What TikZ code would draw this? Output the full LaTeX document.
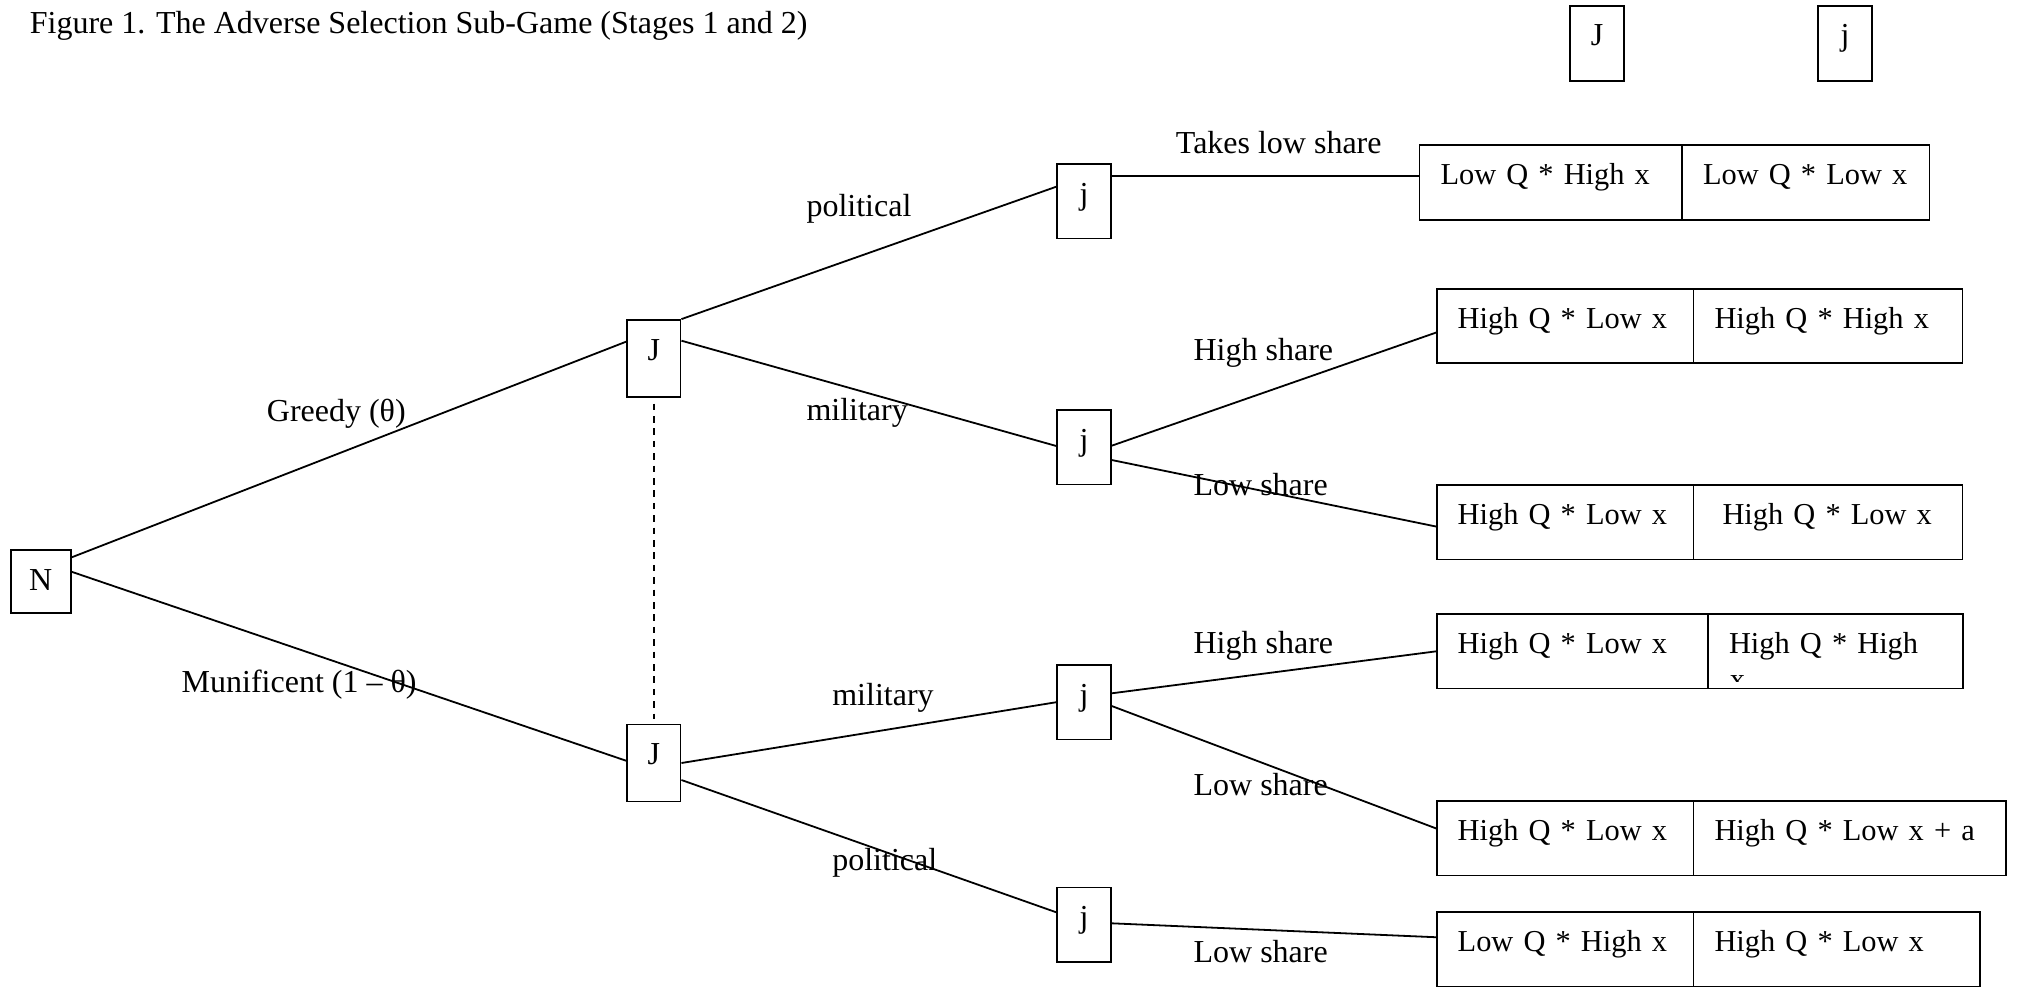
\documentclass[tikz,border=0pt]{standalone}
\usepackage{fontspec}
\setmainfont{Liberation Serif}
\begin{document}
\begin{tikzpicture}[x=0.5pt, y=-0.5pt, line width=0.9pt,
    font=\fontsize{16}{19}\selectfont,
    player/.style ={draw, inner sep=0pt, minimum width=26.8pt, text height=20pt, text depth=17.2pt},
    payoff/.style ={draw, anchor=north west, outer sep=0pt, inner xsep=10.5pt, inner ysep=0pt,
                    text height=19.75pt, text depth=17.5pt, align=left, font=\fontsize{15.2}{19}\selectfont},
    branch/.style ={anchor=base west, inner sep=0pt}]
   \useasboundingbox (0,0) rectangle (2017,986);
   \node[branch] (title) at (29,33) {Figure 1. The Adverse Selection Sub-Game (Stages 1 and 2)};
   % legend
   \node[player, text depth=17.5pt] (legJ) at (1597,43.2) {J};
   \node[player, text depth=17.5pt] (legj) at (1845,43.2) {j};
   % players
   \node[player, minimum width=30pt, text depth=11.35pt] (N) at (40.7,581.35) {N};
   \node[player, text depth=18.5pt] (Ja) at (653.75,358.5) {J};
   \node[player, text depth=18.5pt] (Jb) at (653.75,763) {J};
   \node[player] (ja) at (1084,201.2) {j};
   \node[player] (jb) at (1084,447.2) {j};
   \node[player] (jc) at (1084,702.2) {j};
   \node[player] (jd) at (1084,924.7) {j};
   % payoffs
   \node[payoff, text width=110.25pt] (p1a) at (1419.5,145.3) {\mbox{Low Q * High x}};
   \node[payoff, text width=102.75pt] (p1b) at (p1a.north east) {\mbox{Low Q * Low x}};
   \node[payoff, text width=107.4pt] (p2a) at (1436.7,288.7) {\mbox{High Q * Low x}};
   \node[payoff, text width=113.5pt] (p2b) at (p2a.north east) {\mbox{High Q * High x}};
   \node[payoff, text width=107.4pt] (p3a) at (1436.7,485) {\mbox{High Q * Low x}};
   \node[payoff, text width=105.5pt, inner xsep=14.5pt] (p3b) at (p3a.north east) {\mbox{High Q * Low x}};
   \node[payoff, text width=114.65pt] (p4a) at (1436.7,614) {\mbox{High Q * Low x}};
   \node[payoff, text width=106.5pt] (p4b) at (p4a.north east) {\mbox{High Q * High}};
   \node[payoff, text width=107.4pt] (p5a) at (1436.7,801) {\mbox{High Q * Low x}};
   \node[payoff, text width=135.25pt] (p5b) at (p5a.north east) {\mbox{High Q * Low x + a}};
   \node[payoff, text width=107.4pt] (p6a) at (1436.7,912) {\mbox{Low Q * High x}};
   \node[payoff, text width=122.25pt] (p6b) at (p6a.north east) {\mbox{High Q * Low x}};
   \begin{scope}
     \clip (p4b.north west) rectangle (1963,681);
     \node[branch, font=\fontsize{15.2}{19}\selectfont] (p4x) at (1729,689.6) {x};
   \end{scope}
   % branches
   \draw ([yshift=12pt]N.east) -- ([yshift=8.4pt]Ja.west);
   \draw ([yshift=4.8pt]N.east) -- ([yshift=1.15pt]Jb.west);
   \draw (Ja.north east) -- ([yshift=7.25pt]ja.west);
   \draw ([yshift=8.9pt]Ja.east) -- ([yshift=0.6pt]jb.west);
   \draw (Jb.east) -- (jc.west);
   \draw ([yshift=-8.5pt]Jb.east) -- ([yshift=6.2pt]jd.west);
   \coordinate (jaout) at ([yshift=12.75pt]ja.east);
   \draw (jaout) -- (jaout -| p1a.west);
   \draw ([yshift=0.75pt]jb.east) -- ([yshift=-3.2pt]p2a.west);
   \draw ([yshift=-6.4pt]jb.east) -- ([yshift=-2.2pt]p3a.west);
   \draw ([yshift=4.45pt]jc.east) -- (p4a.west);
   \draw ([yshift=-1.9pt]jc.east) -- ([yshift=4.8pt]p5a.west);
   \draw ([yshift=0.7pt]jd.east) -- ([yshift=6pt]p6a.west);
   \draw[dash pattern=on 3.3pt off 2.9pt, shorten <=2.85pt, shorten >=2.15pt] (Ja.south) -- (Jb.north);
   % labels
   \node[branch] (lGreedy) at (266,421) {Greedy (θ)};
   \node[branch] (lMunif) at (180.8,692.3) {Munificent (1 – θ)};
   \node[branch] (lPolA) at (805.6,216.7) {political};
   \node[branch] (lMilA) at (805.6,420) {military};
   \node[branch] (lMilB) at (831.4,705) {military};
   \node[branch] (lPolB) at (831.4,870) {political};
   \node[branch] (lTakes) at (1175,153.3) {Takes low share};
   \node[branch] (lHighA) at (1192.7,360) {High share};
   \node[branch] (lLowA) at (1192.7,495) {Low share};
   \node[branch] (lHighB) at (1192.7,653.3) {High share};
   \node[branch] (lLowB) at (1192.7,795) {Low share};
   \node[branch] (lLowC) at (1192.7,962.3) {Low share};
 \end{tikzpicture}
\end{document}
